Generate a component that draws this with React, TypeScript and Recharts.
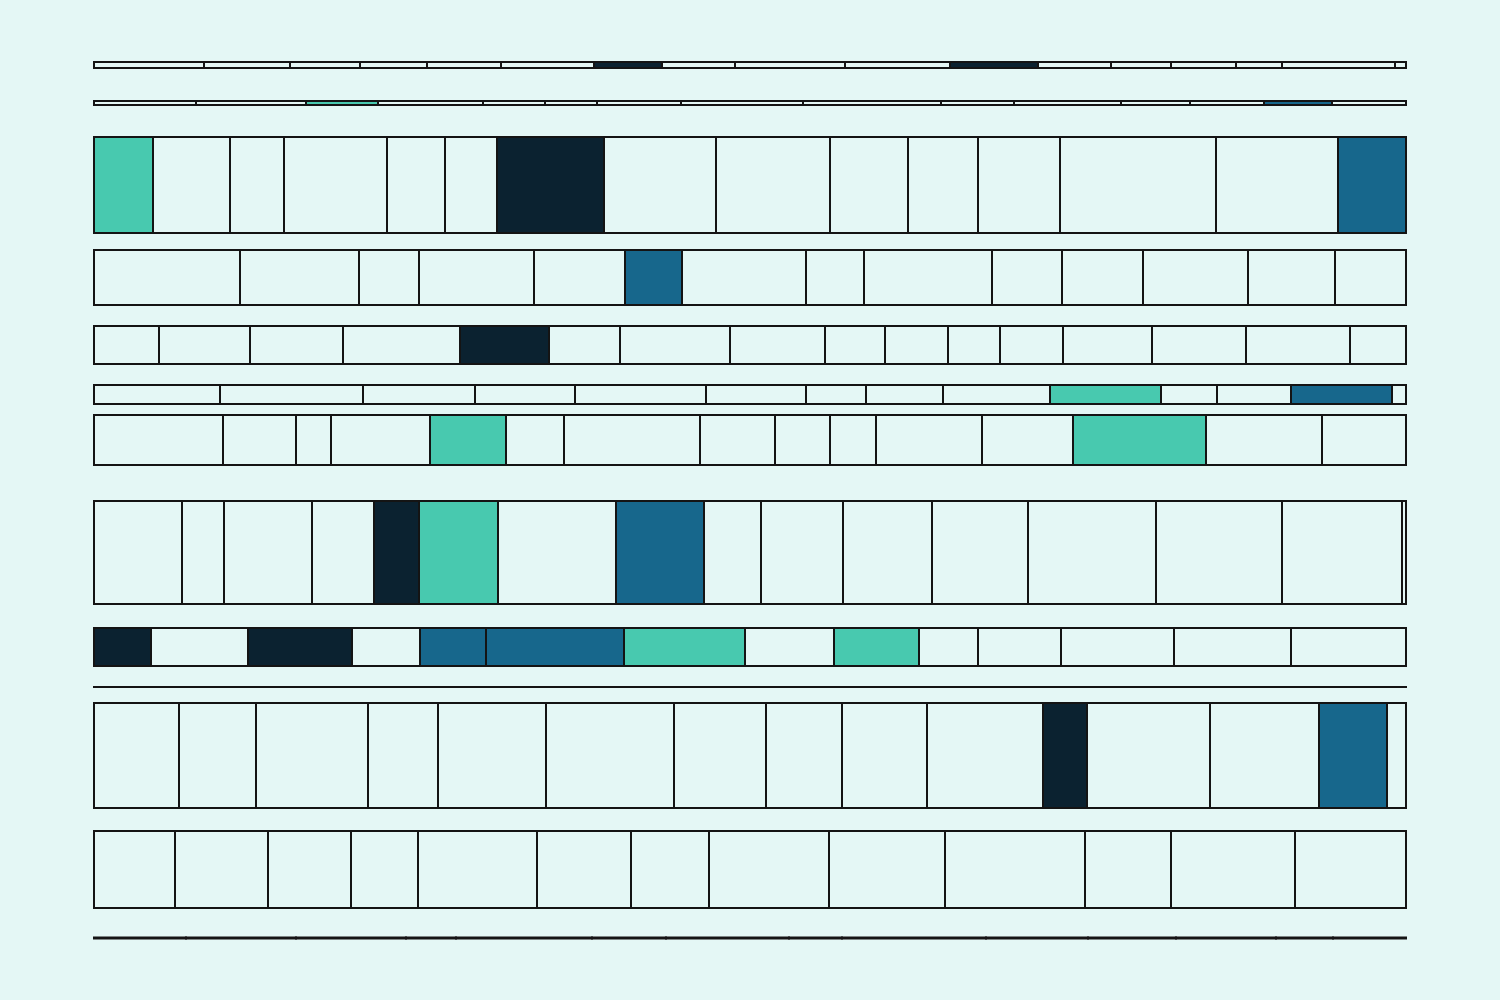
import React from "react";
import { ComposedChart, XAxis, YAxis, ReferenceArea } from "recharts";

// Row vertical extents (top, bottom) in chart y units
const rowSpans: [number, number][] = [
  [62, 68],
  [101, 105],
  [137, 233],
  [250, 305],
  [326, 364],
  [385, 404],
  [415, 465],
  [501, 604],
  [628, 666],
  [686.9, 687.1],
  [703, 808],
  [831, 908],
  [937.5, 938.5],
];

// Segment boundaries per row (x units)
const row1Edges = [94, 204, 290, 360, 427, 501, 594, 662, 735, 845, 950, 1038, 1111, 1171, 1236, 1282, 1395, 1406];
const row2Edges = [94, 196, 306, 378, 483, 545, 597, 681, 803, 941, 1014, 1121, 1190, 1264, 1332, 1406];
const row3Edges = [94, 153, 230, 284, 387, 445, 497, 604, 716, 830, 908, 978, 1060, 1216, 1338, 1406];
const row4Edges = [94, 240, 359, 419, 534, 625, 682, 806, 864, 992, 1062, 1143, 1248, 1335, 1406];
const row5Edges = [94, 159, 250, 343, 460, 549, 620, 730, 825, 885, 948, 1000, 1063, 1152, 1246, 1350, 1406];
const row6Edges = [94, 220, 363, 475, 575, 706, 806, 866, 943, 1050, 1161, 1217, 1291, 1392, 1406];
const row7Edges = [94, 223, 296, 331, 430, 506, 564, 700, 775, 830, 876, 982, 1073, 1206, 1322, 1406];
const row8Edges = [94, 182, 224, 312, 374, 419, 498, 616, 704, 761, 843, 932, 1028, 1156, 1282, 1402, 1406];
const row9Edges = [94, 151, 248, 352, 420, 486, 624, 745, 834, 919, 978, 1061, 1174, 1291, 1406];
const row10Edges = [94, 384, 486, 535, 705, 812, 918, 1005, 1174, 1243, 1406];
const row11Edges = [94, 179, 256, 368, 438, 546, 674, 766, 842, 927, 1043, 1087, 1210, 1319, 1387, 1406];
const row12Edges = [94, 175, 268, 351, 418, 537, 631, 709, 829, 945, 1085, 1171, 1295, 1406];
const row13Edges = [94, 186, 296, 406, 456, 592, 666, 789, 842, 986, 1088, 1176, 1276, 1333, 1406];

const rowEdges = [
  row1Edges, row2Edges, row3Edges, row4Edges, row5Edges, row6Edges, row7Edges,
  row8Edges, row9Edges, row10Edges, row11Edges, row12Edges, row13Edges,
];

// Highlighted segments: [row index, segment index, category]
const highlights: [number, number, "A" | "B" | "C"][] = [
  [0, 6, "A"], [0, 10, "A"],
  [1, 2, "B"], [1, 13, "C"],
  [2, 0, "B"], [2, 6, "A"], [2, 14, "C"],
  [3, 5, "C"],
  [4, 4, "A"],
  [5, 9, "B"], [5, 12, "C"],
  [6, 4, "B"], [6, 12, "B"],
  [7, 4, "A"], [7, 5, "B"], [7, 7, "C"],
  [8, 0, "A"], [8, 2, "A"], [8, 4, "C"], [8, 5, "C"], [8, 6, "B"], [8, 8, "B"],
  [10, 10, "A"], [10, 13, "C"],
];

const palette: Record<string, string> = {
  A: "#0b2230",
  B: "#48c9af",
  C: "#17678c",
};

const BG = "#e4f7f5";

export default function App() {
  const cells: React.ReactNode[] = [];
  rowEdges.forEach((edges, r) => {
    const [top, bottom] = rowSpans[r];
    for (let i = 0; i < edges.length - 1; i++) {
      const h = highlights.find((d) => d[0] === r && d[1] === i);
      cells.push(
        <ReferenceArea
          key={`c-${r}-${i}`}
          x1={edges[i]}
          x2={edges[i + 1]}
          y1={top}
          y2={bottom}
          fill={h ? palette[h[2]] : "transparent"}
          fillOpacity={1}
          stroke="#141414"
          strokeWidth={2}
          ifOverflow="visible"
        />
      );
    }
  });

  return (
    <div style={{ position: "absolute", left: 0, top: 0, width: 1500, height: 1000, background: BG }}>
      <ComposedChart
        width={1500}
        height={1000}
        data={[{ x: 94, y: 0 }, { x: 1406, y: 1000 }]}
        margin={{ top: 0, right: 94, bottom: 0, left: 94 }}
      >
        <XAxis type="number" dataKey="x" domain={[94, 1406]} hide />
        <YAxis type="number" dataKey="y" domain={[0, 1000]} reversed hide />
        {cells}
      </ComposedChart>
    </div>
  );
}
